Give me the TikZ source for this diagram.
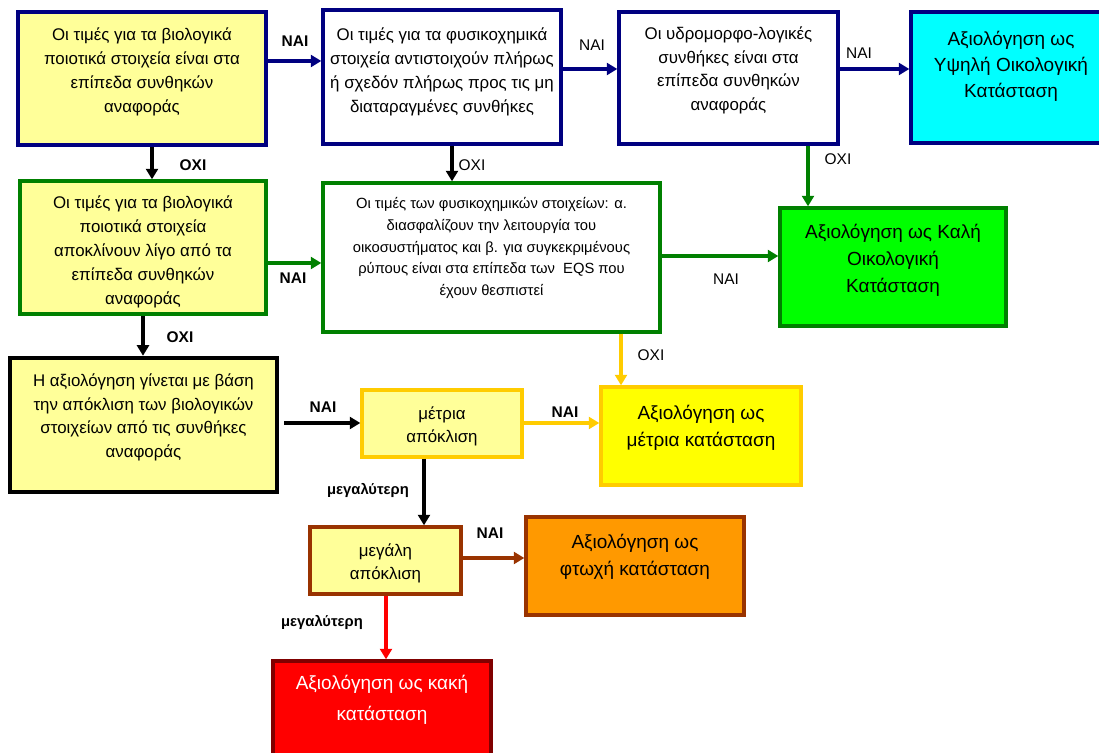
\documentclass[tikz,border=0pt]{standalone}
\usepackage{fontspec}
\setmainfont{Liberation Sans}
\usetikzlibrary{calc,arrows.meta}

\definecolor{navyline}{RGB}{0,0,128}
\definecolor{paleyellow}{RGB}{255,255,153}
\definecolor{highcyan}{RGB}{0,255,255}
\definecolor{greenline}{RGB}{0,128,0}
\definecolor{goodgreen}{RGB}{0,255,0}
\definecolor{amber}{RGB}{255,204,0}
\definecolor{stateyellow}{RGB}{255,255,0}
\definecolor{poororange}{RGB}{255,153,0}
\definecolor{brownline}{RGB}{153,51,0}
\definecolor{darkred}{RGB}{128,0,0}

% text of a box, lifted a little inside it
\newcommand{\lifted}[2]{\raisebox{#1}[\height][\depth]{\begin{tabular}{@{}c@{}}#2\end{tabular}}}

\begin{document}
\begin{tikzpicture}
[
    x=0.025cm,y=-0.025cm,
    box/.style={draw,line width=2.4pt,inner sep=0pt,font=\fontsize{12}{17}\selectfont},
    boxsize/.style 2 args={minimum width=#1*0.025cm,minimum height=#2*0.025cm},
    link/.style={line width=2.4pt,-{Triangle[length=7.5pt,width=8.5pt]}},
    yes/.style={font=\fontsize{11}{13}\selectfont},
    yesbold/.style={font=\fontsize{11}{13}\selectfont\bfseries},
]
\useasboundingbox (0,0) rectangle (1099,753);
\clip (0,0) rectangle (1099,753);
\fill[white] (0,0) rectangle (1099,753);

% first row
\node[box,boxsize={248}{133},draw=navyline,fill=paleyellow] (bioA) at (142,78.5)
  {\lifted{5pt}{Οι τιμές για τα βιολογικά\\ποιοτικά στοιχεία είναι στα\\επίπεδα συνθηκών\\αναφοράς}};
\node[box,boxsize={238}{134},draw=navyline,fill=white] (chemA) at (442,77)
  {\lifted{4pt}{Οι τιμές για τα φυσικοχημικά\\στοιχεία αντιστοιχούν πλήρως\\ή σχεδόν πλήρως προς τις μη\\διαταραγμένες συνθήκες}};
\node[box,boxsize={219}{132},draw=navyline,fill=white] (hydro) at (728.5,78)
  {\lifted{5.5pt}{Οι υδρομορφο-λογικές\\συνθήκες είναι στα\\επίπεδα συνθηκών\\αναφοράς}};
\node[box,boxsize={200}{131},draw=navyline,fill=highcyan,font=\fontsize{13.5}{18.5}\selectfont] (high) at (1011,77.5)
  {\lifted{8pt}{Αξιολόγηση ως\\Υψηλή Οικολογική\\Κατάσταση}};

% second row
\node[box,boxsize={246}{133},draw=greenline,fill=paleyellow] (bioB) at (143,247.5)
  {\lifted{-2.8pt}{Οι τιμές για τα βιολογικά\\ποιοτικά στοιχεία\\αποκλίνουν λίγο από τα\\επίπεδα συνθηκών\\αναφοράς}};
\node[box,boxsize={337}{149},draw=greenline,fill=white,font=\fontsize{10.5}{15.5}\selectfont] (chemB) at (491.5,257.5)
  {\lifted{7pt}{Οι τιμές των φυσικοχημικών στοιχείων: α.\\διασφαλίζουν την λειτουργία του\\οικοσυστήματος και β. για συγκεκριμένους\\ρύπους είναι στα επίπεδα των\ \ EQS που\\έχουν θεσπιστεί}};
\node[box,boxsize={226}{118},draw=greenline,fill=goodgreen,font=\fontsize{13.5}{19}\selectfont] (good) at (893,267)
  {\lifted{5pt}{Αξιολόγηση ως Καλή\\Οικολογική\\Κατάσταση}};

% third row and below
\node[box,boxsize={267}{134},draw=black,line width=3.2pt,fill=paleyellow] (devi) at (143.5,425)
  {\lifted{5.5pt}{Η αξιολόγηση γίνεται με βάση\\την απόκλιση των βιολογικών\\στοιχείων από τις συνθήκες\\αναφοράς}};
\node[box,boxsize={160}{67},draw=amber,fill=paleyellow,font=\fontsize{12}{16.5}\selectfont] (modest) at (442,423.5)
  {\lifted{-2pt}{μέτρια\\απόκλιση}};
\node[box,boxsize={200}{98},draw=amber,fill=stateyellow,font=\fontsize{13.5}{19}\selectfont] (moderate) at (701,436)
  {\lifted{5.7pt}{Αξιολόγηση ως\\μέτρια κατάσταση}};
\node[box,boxsize={151}{67},draw=brownline,fill=paleyellow,font=\fontsize{12}{16}\selectfont] (large) at (385.5,560.5)
  {\lifted{-2pt}{μεγάλη\\απόκλιση}};
\node[box,boxsize={218}{98},draw=brownline,fill=poororange,font=\fontsize{13.5}{19}\selectfont] (poor) at (635,566)
  {\lifted{6.4pt}{Αξιολόγηση ως\\φτωχή κατάσταση}};
\node[box,boxsize={218}{99},draw=darkred,fill=red,text=white,font=\fontsize{13.5}{22}\selectfont] (bad) at (382,710.5)
  {\lifted{8pt}{Αξιολόγηση ως κακή\\κατάσταση}};

% arrows
\draw[link,navyline] (bioA.east |- 0,61) -- (chemA.west |- 0,61);
\draw[link,navyline] (chemA.east |- 0,69) -- (hydro.west |- 0,69);
\draw[link,navyline] (hydro.east |- 0,69) -- (high.west |- 0,69);
\draw[link,black,line width=3pt] (bioA.south -| 152,0) -- (bioB.north -| 152,0);
\draw[link,black] (chemA.south -| 452,0) -- (chemB.north -| 452,0);
\draw[link,greenline] (hydro.south -| 808,0) -- (good.north -| 808,0);
\draw[link,greenline] (bioB.east |- 0,263) -- (chemB.west |- 0,263);
\draw[link,greenline] (chemB.east |- 0,256) -- (good.west |- 0,256);
\draw[link,black,line width=3pt] (bioB.south -| 143,0) -- (devi.north -| 143,0);
\draw[link,amber] (chemB.south -| 621,0) -- (moderate.north -| 621,0);
\draw[link,black,line width=3pt] ($(devi.east |- 0,423)+(5,0)$) -- (modest.west |- 0,423);
\draw[link,amber] (modest.east |- 0,423) -- (moderate.west |- 0,423);
\draw[link,black,line width=3pt] (modest.south -| 424,0) -- (large.north -| 424,0);
\draw[link,brownline] (large.east |- 0,558) -- (poor.west |- 0,558);
\draw[link,red] (large.south -| 386,0) -- (bad.north -| 386,0);

% answers
\node[yesbold] (yes1) at (295,41) {NAI};
\node[yesbold] (no1) at (193,165) {OXI};
\node[yes] (yes2) at (592,45) {NAI};
\node[yes] (no2) at (472,165) {OXI};
\node[yes] (yes3) at (859,53) {NAI};
\node[yes] (no3) at (838,159) {OXI};
\node[yesbold] (yes4) at (293,278) {NAI};
\node[yesbold] (no4) at (180,337) {OXI};
\node[yes] (yes5) at (726,279) {NAI};
\node[yes] (no5) at (651,355) {OXI};
\node[yesbold] (yes6) at (323,407) {NAI};
\node[yesbold] (yes7) at (565,412) {NAI};
\node[yesbold,font=\fontsize{10.5}{12}\selectfont\bfseries] (more1) at (368,490) {μεγαλύτερη};
\node[yesbold] (yes8) at (490,533) {NAI};
\node[yesbold,font=\fontsize{10.5}{12}\selectfont\bfseries] (more2) at (322,622) {μεγαλύτερη};
\end{tikzpicture}
\end{document}
